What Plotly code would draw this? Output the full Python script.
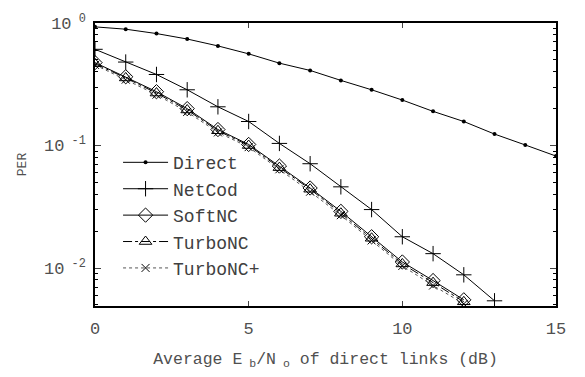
import plotly.graph_objects as go

snr = [0, 1, 2, 3, 4, 5, 6, 7, 8, 9, 10, 11, 12, 13, 14, 15]
direct = [0.93, 0.89, 0.82, 0.74, 0.65, 0.56, 0.47, 0.41, 0.34, 0.285, 0.235, 0.19, 0.157, 0.124, 0.101, 0.082]
snr_nc = [0, 1, 2, 3, 4, 5, 6, 7, 8, 9, 10, 11, 12, 13]
netcod = [0.61, 0.48, 0.38, 0.285, 0.207, 0.157, 0.104, 0.071, 0.046, 0.030, 0.018, 0.0131, 0.0088, 0.0054]
snr_s = [0, 1, 2, 3, 4, 5, 6, 7, 8, 9, 10, 11, 12]
softnc = [0.475, 0.364, 0.275, 0.20, 0.135, 0.102, 0.068, 0.045, 0.029, 0.018, 0.0112, 0.0079, 0.0055]
turbonc = [0.465, 0.356, 0.268, 0.195, 0.132, 0.100, 0.066, 0.044, 0.028, 0.0175, 0.0108, 0.0076, 0.0053]
turbonc_p = [0.455, 0.345, 0.26, 0.188, 0.128, 0.097, 0.064, 0.042, 0.027, 0.0168, 0.0104, 0.0072, 0.0051]

ytick_vals = [1, 0.1, 0.01]
ytick_text = ["10<sup> 0</sup>", "10<sup> -1</sup>", "10<sup> -2</sup>"]
xtick_vals = [0, 5, 10, 15]
minor_vals = [m * d for d in (0.001, 0.01, 0.1) for m in range(2, 10)]

font = "Liberation Mono, Courier New, monospace"
fig = go.Figure()
fig.add_trace(go.Scatter(x=snr, y=direct, name="Direct", mode="lines+markers",
                         line=dict(color="black", width=1),
                         marker=dict(symbol="circle", size=4, color="black")))
fig.add_trace(go.Scatter(x=snr_nc, y=netcod, name="NetCod", mode="lines+markers",
                         line=dict(color="black", width=1),
                         marker=dict(symbol="cross-thin", size=11, line=dict(color="black", width=1))))
fig.add_trace(go.Scatter(x=snr_s, y=softnc, name="SoftNC", mode="lines+markers",
                         line=dict(color="black", width=1),
                         marker=dict(symbol="diamond-open", size=11, color="black", line=dict(width=1))))
fig.add_trace(go.Scatter(x=snr_s, y=turbonc, name="TurboNC", mode="lines+markers",
                         line=dict(color="black", width=1, dash="dashdot"),
                         marker=dict(symbol="triangle-up-open", size=11, color="black", line=dict(width=1))))
fig.add_trace(go.Scatter(x=snr_s, y=turbonc_p, name="TurboNC+", mode="lines+markers",
                         line=dict(color="#555555", width=1, dash="dot"),
                         marker=dict(symbol="x-thin", size=8, line=dict(color="black", width=1))))

fig.update_layout(
    width=585, height=377, margin=dict(l=95, r=29, t=21, b=71),
    plot_bgcolor="white", paper_bgcolor="white",
    font=dict(family=font, size=13, color="#505050"),
    showlegend=True,
    legend=dict(x=0.05, y=0.572, xanchor="left", yanchor="top", bgcolor="rgba(0,0,0,0)",
                font=dict(family=font, size=18, color="#404040"), tracegroupgap=0,
                itemwidth=45),
    xaxis=dict(range=[0, 15], tickvals=xtick_vals, ticks="inside", ticklen=5,
               showline=True, linecolor="black", linewidth=1.5, mirror="allticks",
               showgrid=False, zeroline=False, tickfont=dict(size=17),
               ticklabelstandoff=6,
               title=dict(text="Average E<sub> b</sub>/N<sub> o</sub> of direct links (dB)",
                          font=dict(size=16.5), standoff=14)),
    yaxis=dict(type="log", range=[-2.31, 0], tickvals=ytick_vals, ticktext=ytick_text,
               ticks="inside", ticklen=6, showline=True, linecolor="black", linewidth=1.5,
               mirror="allticks", showgrid=False, zeroline=False, tickfont=dict(size=17),
               ticklabelstandoff=4,
               minor=dict(tickvals=minor_vals, ticks="inside", ticklen=3, tickcolor="black"),
               title=dict(text="PER", font=dict(size=13), standoff=14)),
)
fig.write_html("out.html")
